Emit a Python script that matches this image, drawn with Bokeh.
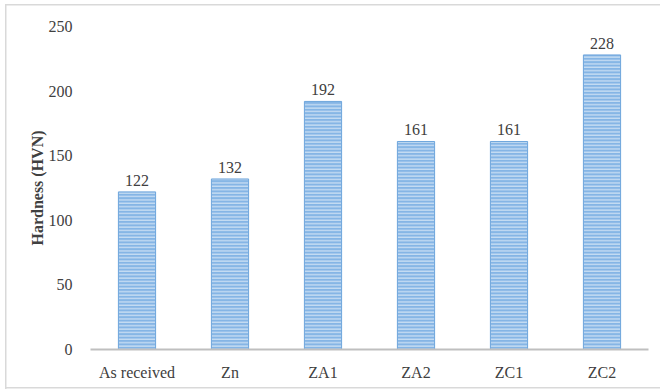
from bokeh.plotting import figure
from bokeh.models import ColumnDataSource, FactorRange, Range1d, FixedTicker
from bokeh.embed import file_html
from bokeh.resources import INLINE
from bokeh.core.properties import value

# Vickers hardness of the samples
samples = ["As received", "Zn", "ZA1", "ZA2", "ZC1", "ZC2"]
hardness = [122, 132, 192, 161, 161, 228]
y_ticks = [0, 50, 100, 150, 200, 250]

FONT = "Liberation Serif"
TEXT_COLOR = "#404040"
FRAME = "#d9d9d9"

source = ColumnDataSource(data=dict(
    sample=samples,
    hardness=hardness,
    label=[str(v) for v in hardness],
))

p = figure(
    width=660, height=390,
    x_range=FactorRange(*samples, range_padding=0),
    y_range=Range1d(0, 250),
    output_backend="svg", toolbar_location=None,
    min_border_left=90, min_border_right=12,
    min_border_top=26, min_border_bottom=41,
)
p.outline_line_color = None
p.grid.grid_line_color = None
p.background_fill_color = "white"
p.border_fill_color = None

# thin grey frame around the chart area, drawn as the page element's background
line = f"linear-gradient({FRAME},{FRAME})"
p.styles = {
    "background": (
        f"{line} 5px 4px / 1.5px 385px no-repeat, "
        f"{line} 5px 3.5px / 660px 1.5px no-repeat, "
        f"{line} 5px 387px / 660px 1.5px no-repeat, white"
    ),
}

# striped blue bars
p.vbar(
    x="sample", top="hardness", width=0.4, source=source,
    fill_color="#85b5e5", line_color="#6fa6dc", line_width=1,
    hatch_pattern="horizontal_line", hatch_color="#cadff4",
    hatch_scale=3.4, hatch_weight=1.3,
)

# value labels above bars
p.text(
    x="sample", y="hardness", text="label", source=source,
    text_align="center", text_baseline="bottom", y_offset=-6,
    text_font=value(FONT), text_font_size="16px", text_color=TEXT_COLOR,
)

# x axis
xa = p.xaxis[0]
xa.axis_line_color = "#bfbfbf"
xa.axis_line_width = 2
xa.major_tick_line_color = None
xa.minor_tick_line_color = None
xa.major_label_text_font = FONT
xa.major_label_text_font_size = "16px"
xa.major_label_text_color = TEXT_COLOR
xa.major_label_standoff = 8

# y axis
ya = p.yaxis[0]
ya.ticker = FixedTicker(ticks=y_ticks)
ya.axis_line_color = None
ya.major_tick_line_color = None
ya.minor_tick_line_color = None
ya.major_label_text_font = FONT
ya.major_label_text_font_size = "16px"
ya.major_label_text_color = TEXT_COLOR
ya.major_label_standoff = 12
ya.axis_label = "Hardness (HVN)"
ya.axis_label_text_font = FONT
ya.axis_label_text_font_size = "16px"
ya.axis_label_text_font_style = "bold"
ya.axis_label_text_color = TEXT_COLOR
ya.axis_label_standoff = 0

open("out.html", "w").write(file_html(p, INLINE))
